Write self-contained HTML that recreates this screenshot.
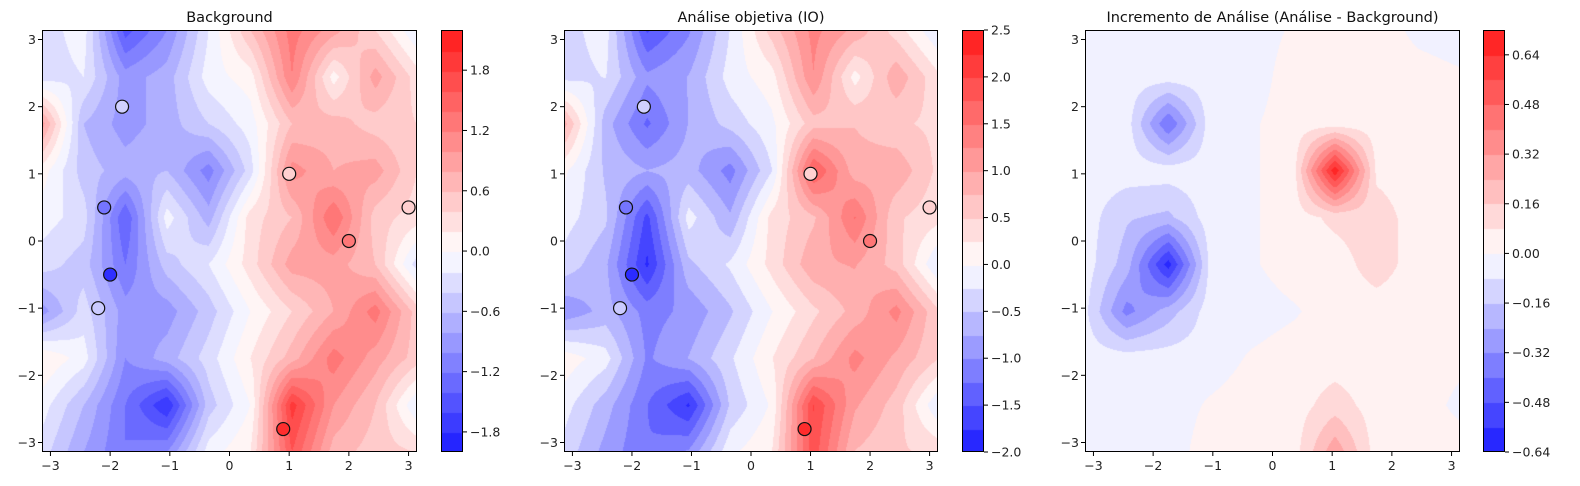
<!DOCTYPE html>
<html><head><meta charset="utf-8">
<style>
body{margin:0;background:#fff;width:1580px;height:486px;overflow:hidden;font-family:"DejaVu Sans","Liberation Sans",sans-serif;}
#root{position:relative;width:1580px;height:486px;}
canvas{position:absolute;}
svg{position:absolute;left:0;top:0;}
</style></head>
<body>
<div id="root">
<canvas id="c0"></canvas>
<canvas id="c1"></canvas>
<canvas id="c2"></canvas>
<canvas id="b0"></canvas>
<canvas id="b1"></canvas>
<canvas id="b2"></canvas>
<svg id="ov" width="1580" height="486"></svg>
</div>
<script>
// background field, rows top (y=+pi) to bottom (y=-pi), cols x=-pi..pi (10x10 grid)
const background = [
[-0.3,-0.1,-1.5,-1.0,-0.2,0.6,1.3,0.9,0.4,-0.2],
[-0.3,-0.2,-0.9,-0.7,-0.1,0.1,1.2,0.1,0.9,0.3],
[0.9,-0.6,-0.9,-0.7,-0.4,-0.1,0.6,0.7,0.5,0.4],
[0.1,-0.5,-0.7,-0.6,-1.1,-0.3,1.1,0.8,0.9,0.4],
[-0.1,-0.3,-1.4,-0.1,-0.7,0.3,0.6,1.4,0.5,0.3],
[-0.3,-0.5,-1.2,-0.5,-0.2,0.3,0.9,0.9,0.6,-0.3],
[-0.9,-0.3,-0.9,-0.9,-0.5,0.0,0.4,0.8,1.3,0.5],
[0.2,-0.1,-1.0,-0.7,-0.3,0.2,0.7,1.3,0.9,0.5],
[-0.1,-0.6,-1.2,-1.8,-0.5,0.0,1.9,1.0,0.6,-0.2],
[-0.3,-0.8,-1.2,-1.0,-0.1,0.2,1.6,0.7,0.5,0.4]];
const increment = [
[-.04,-.04,-.04,-.04,-.04,.01,.04,.04,-.02,-.04],
[-.04,-.04,-.04,-.04,-.04,.04,.04,.04,.03,.01],
[-.04,-.04,-.4,-.04,-.01,.04,.04,.04,.04,.04],
[-.04,-.04,-.04,-.04,-.01,.04,.7,.06,.04,.04],
[-.04,-.15,-.18,-.04,-.01,.04,.1,.12,.04,.04],
[-.04,-.2,-.6,-.06,-.01,.04,.04,.12,.04,.04],
[-.06,-.35,-.2,-.04,-.04,-.01,.04,.04,.04,.04],
[-.04,-.04,-.04,-.04,.01,.04,.04,.04,.04,.02],
[-.04,-.04,-.04,.01,.04,.04,.12,.04,.04,-.02],
[-.04,-.04,-.04,.04,.04,.04,.3,.04,.04,.04]];
const obsX = [-1.8,1.0,-2.1,3.0,2.0,-2.0,-2.2,0.9];
const obsY = [2.0,1.0,0.5,0.5,0.0,-0.5,-1.0,-2.8];
const obsVal = [-0.4,0.45,-1.2,0.45,1.3,-1.8,-0.45,2.0];
const obsValAna = [-0.4,0.5,-1.2,0.5,1.5,-1.85,-0.45,2.3];
const levels0 = {min:-2.0,max:2.2,step:0.2};
const levels1 = {min:-2.0,max:2.5,step:0.25};
const levels2 = {min:-0.64,max:0.72,step:0.08};
const ticks0 = ["−1.8","−1.2","−0.6","0.0","0.6","1.2","1.8"];
const tickVals0 = [-1.8,-1.2,-0.6,0,0.6,1.2,1.8];
const ticks1 = ["−2.0","−1.5","−1.0","−0.5","0.0","0.5","1.0","1.5","2.0","2.5"];
const tickVals1 = [-2,-1.5,-1,-0.5,0,0.5,1,1.5,2,2.5];
const ticks2 = ["−0.64","−0.48","−0.32","−0.16","0.00","0.16","0.32","0.48","0.64"];
const tickVals2 = [-0.64,-0.48,-0.32,-0.16,0,0.16,0.32,0.48,0.64];
const axisTicks = [-3,-2,-1,0,1,2,3];
const axisLabels = ["−3","−2","−1","0","1","2","3"];
const titles = ["Background","Análise objetiva (IO)","Incremento de Análise (Análise - Background)"];

const analysis = background.map((r,i)=>r.map((v,j)=>v+increment[i][j]));
const A=0.9;
function bwr(t){t=Math.max(0,Math.min(1,t));let r,g,b;
 if(t<0.5){r=g=t*2;b=1;}else{r=1;g=b=(1-t)*2;}
 return [255*(1-A+A*r),255*(1-A+A*g),255*(1-A+A*b)].map(Math.round);}
function norm(v,L){return v>=0?0.5+0.5*v/L.max:0.5-0.5*v/L.min;}
function bandColor(v,L){let n=Math.round((L.max-L.min)/L.step);
 let k=Math.floor((v-L.min)/L.step);k=Math.max(0,Math.min(n-1,k));
 let mid=L.min+(k+0.5)*L.step;return bwr(norm(mid,L));}
const panels=[{L:42,R:417,cb:441,data:background,lev:levels0,tk:ticks0,tv:tickVals0,obs:obsVal},
 {L:564,R:938,cb:962,data:analysis,lev:levels1,tk:ticks1,tv:tickVals1,obs:obsValAna},
 {L:1085,R:1460,cb:1483,data:increment,lev:levels2,tk:ticks2,tv:tickVals2,obs:null}];
const T=30,B=452,CBW=22,PI=Math.PI;
const ov=document.getElementById('ov');const NS='http://www.w3.org/2000/svg';
function el(tag,attrs,txt){const e=document.createElementNS(NS,tag);for(const k in attrs)e.setAttribute(k,attrs[k]);if(txt!==undefined)e.textContent=txt;ov.appendChild(e);return e;}
function field(d,x,y){
 let fx=(x+PI)/(2*PI)*9, fy=(PI-y)/(2*PI)*9;
 let i=Math.min(8,Math.max(0,Math.floor(fx))), j=Math.min(8,Math.max(0,Math.floor(fy)));
 let u=fx-i,w=fy-j;
 return d[j][i]*(1-u)*(1-w)+d[j][i+1]*u*(1-w)+d[j+1][i]*(1-u)*w+d[j+1][i+1]*u*w;}
panels.forEach((p,pi)=>{
 const W=p.R-p.L,H=B-T;
 const c=document.getElementById('c'+pi);c.width=W;c.height=H;c.style.left=p.L+'px';c.style.top=T+'px';
 const ctx=c.getContext('2d');const img=ctx.createImageData(W,H);
 for(let py=0;py<H;py++)for(let px=0;px<W;px++){
  const x=-PI+(px+0.5)/W*2*PI,y=PI-(py+0.5)/H*2*PI;
  const col=bandColor(field(p.data,x,y),p.lev);const o=(py*W+px)*4;
  img.data[o]=col[0];img.data[o+1]=col[1];img.data[o+2]=col[2];img.data[o+3]=255;}
 ctx.putImageData(img,0,0);
 const sx=x=>p.L+(x+PI)/(2*PI)*W, sy=y=>T+(PI-y)/(2*PI)*H;
 const b=document.getElementById('b'+pi);b.width=CBW;b.height=H;b.style.left=p.cb+'px';b.style.top=T+'px';
 const bx=b.getContext('2d');const n=Math.round((p.lev.max-p.lev.min)/p.lev.step);
 for(let k=0;k<n;k++){const mid=p.lev.min+(k+0.5)*p.lev.step;const col=bwr(norm(mid,p.lev));
  bx.fillStyle=`rgb(${col})`;const y0=H-(k+1)/n*H;bx.fillRect(0,Math.floor(y0),CBW,Math.ceil(H/n)+1);}
 const cbY=v=>T+H-(v-p.lev.min)/(p.lev.max-p.lev.min)*H;
 const cbf=el('rect',{x:p.cb+0.5,y:T+0.5,width:CBW-1,height:H-1,fill:'none',stroke:'#000','stroke-width':1});
 
 p.tv.forEach((v,k)=>{const y=cbY(v);
  el('line',{x1:p.cb+CBW,x2:p.cb+CBW+4,y1:y,y2:y,stroke:'#000'});
  const t=el('text',{x:p.cb+CBW+7,y:y+4.5,'font-size':12.5,fill:'#222'},p.tk[k]);
  });
 if(p.obs){obsX.forEach((x,k)=>{const col=bwr(norm(p.obs[k],p.lev));
  const m=el('circle',{cx:sx(x),cy:sy(obsY[k]),r:6.5,fill:`rgb(${col})`,stroke:'#111','stroke-width':1.2});
  });}
 const fr=el('rect',{x:p.L+0.5,y:T+0.5,width:W-1,height:H-1,fill:'none',stroke:'#000','stroke-width':1});
 
 axisTicks.forEach((v,k)=>{const x=sx(v),y=sy(v);
  el('line',{x1:x,x2:x,y1:B,y2:B+4,stroke:'#000'});
  const tx=el('text',{x:x,y:B+18,'font-size':12.5,'text-anchor':'middle',fill:'#222'},axisLabels[k]);
  
  el('line',{x1:p.L-4,x2:p.L,y1:y,y2:y,stroke:'#000'});
  const ty=el('text',{x:p.L-6,y:y+4.5,'font-size':12.5,'text-anchor':'end',fill:'#222'},axisLabels[k]);
  });
 const tt=el('text',{x:(p.L+p.R)/2,y:22,'font-size':14.5,'text-anchor':'middle',fill:'#111'},titles[pi]);
 
});
</script>
</body></html>
